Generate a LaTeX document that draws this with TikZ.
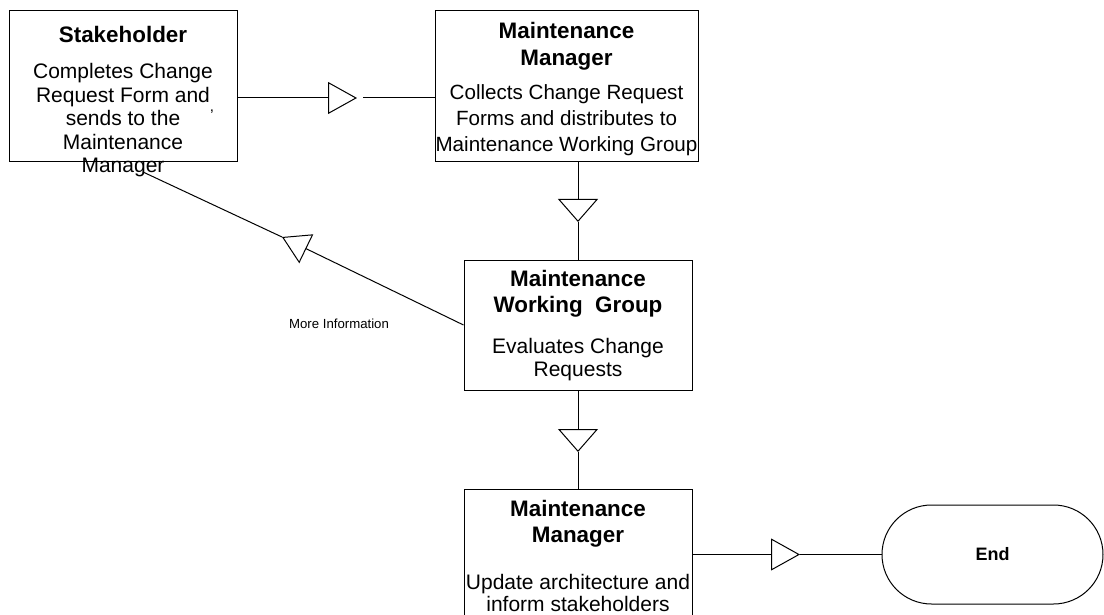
\documentclass[tikz,border=0pt]{standalone}
\usepackage{fontspec}
\setmainfont{Liberation Sans}
\usetikzlibrary{arrows.meta}

\tikzset{
  box/.style={draw, line width=1pt, inner sep=0pt},
  ttl/.style={font=\fontsize{22.4}{#1}\selectfont\bfseries, align=center, inner sep=0pt},
  ttl/.default=27,
  bodytext/.style={font=\fontsize{21}{#1}\selectfont, align=center, inner sep=0pt},
  bodytext/.default=23.5,
  flow/.style={line width=1pt},
  harrow/.style={flow, -{Triangle[open, length=29pt, width=32pt, line width=1pt]}},
  varrow/.style={flow, -{Triangle[open, length=23pt, width=40pt, line width=1pt]}},
  sarrow/.style={flow, -{Triangle[open, length=27pt, width=32pt, line width=1pt]}},
  terminal/.style={draw, line width=1pt, rounded corners=49.5pt, minimum width=221pt,
    minimum height=99pt, inner sep=0pt, font=\fontsize{18}{21}\selectfont\bfseries},
  note/.style={font=\fontsize{13.2}{15}\selectfont, inner sep=0pt}
}

\begin{document}
\begin{tikzpicture}[x=1pt, y=-1pt]
  \useasboundingbox (0,0) rectangle (1104,615);
  \clip (0,0) rectangle (1104,615);

  % process boxes
  \node[box, minimum width=228pt, minimum height=151pt] (sh)  at (123,86.5)   {};
  \node[box, minimum width=263pt, minimum height=151pt] (mm1) at (566.5,86.5) {};
  \node[box, minimum width=228pt, minimum height=130pt] (mwg) at (578,325)    {};
  \node[box, minimum width=228pt, minimum height=160pt] (mm2) at (578,569)    {};
  \node[terminal] (endnode) at (992.5,554.5) {End};

  % box texts
  \node[ttl] (sht) at (123,34) {Stakeholder};
  \node[bodytext] (shb) at (123,120.5)
    {Completes Change\\Request Form and\\sends to the\\Maintenance\\Manager};
  \node[font=\fontsize{15}{17}\selectfont, inner sep=0pt] (mark) at (212,112) {,};

  \node[ttl] (mm1t) at (566.5,46.7) {Maintenance\\Manager};
  \node[bodytext=26, font=\fontsize{20.6}{26}\selectfont] (mm1b) at (566.5,120.5)
    {Collects Change Request\\Forms and distributes to\\Maintenance Working Group};

  \node[ttl=26] (mwgt) at (578,294.2) {Maintenance\\Working\ \ Group};
  \node[bodytext=23] (mwgb) at (578,360) {Evaluates Change\\Requests};

  \node[ttl=26] (mm2t) at (578,524.2) {Maintenance\\Manager};
  \node[bodytext=22] (mm2b) at (578,592.5)
    {Update architecture and\\inform stakeholders};

  \node[note] (info) at (339,324) {More Information};

  % connector points
  \coordinate (t1)  at (357,98);
  \coordinate (t1b) at (363,98);
  \coordinate (t2)  at (578,222);
  \coordinate (t3)  at (578,452);
  \coordinate (t4)  at (800,554.5);
  \coordinate (t5)  at (282,237);
  \coordinate (shend) at (143,172);

  % connectors
  \draw[harrow] (sh.east |- t1) -- (t1);
  \draw[flow] (t1b) -- (mm1.west |- t1b);

  \draw[varrow] (mm1.south -| t2) -- (t2);
  \draw[flow] (t2) -- (mwg.north);

  \draw[varrow] (mwg.south) -- (t3);
  \draw[flow] (t3) -- (mm2.north);

  \draw[harrow] (mm2.east |- t4) -- (t4);
  \draw[flow] (t4) -- (endnode.west);

  \draw[sarrow] (mwg.west) -- (t5);
  \draw[flow] (t5) -- (shend);
\end{tikzpicture}
\end{document}
